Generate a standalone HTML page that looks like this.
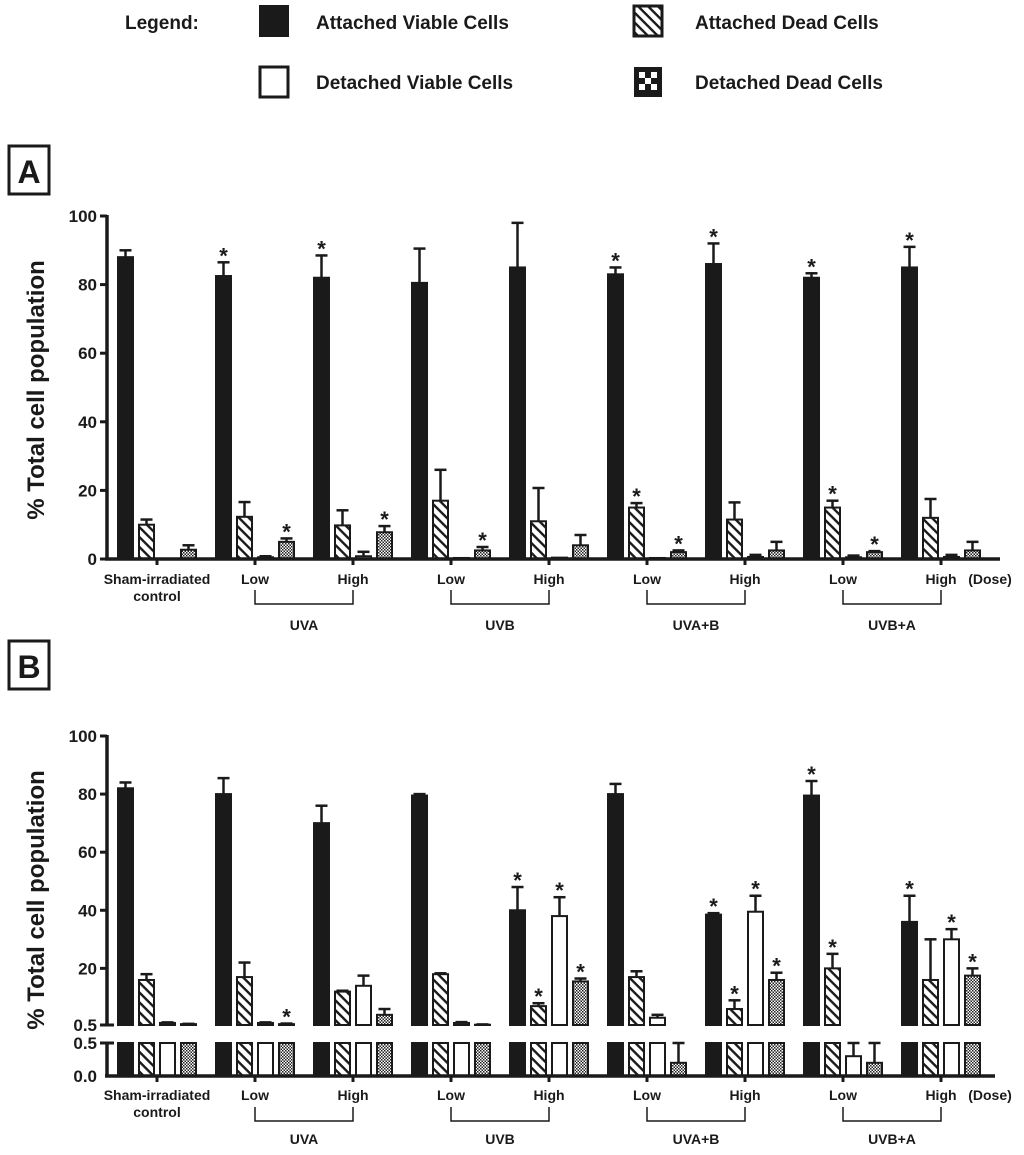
<!DOCTYPE html>
<html><head><meta charset="utf-8"><style>
body{margin:0;background:#fff;}
svg text{font-family:"Liberation Sans",sans-serif;font-weight:bold;fill:#1a1a1a;}
</style></head><body>
<svg id="fig" width="1024" height="1150" xmlns="http://www.w3.org/2000/svg">
<defs>
<pattern id="hatch" width="7" height="7" patternUnits="userSpaceOnUse" patternTransform="rotate(45)">
<rect width="7" height="7" fill="#fff"/><rect x="0" y="0" width="7" height="2.4" fill="#1a1a1a"/>
</pattern>
<pattern id="check" width="3" height="3" patternUnits="userSpaceOnUse">
<rect width="3" height="3" fill="#fff"/><rect width="1.5" height="1.5" fill="#222"/><rect x="1.5" y="1.5" width="1.5" height="1.5" fill="#222"/>
</pattern>
</defs>
<g>
<text x="125" y="29" font-size="19">Legend:</text>
<rect x="260" y="6" width="28" height="30" fill="#1a1a1a" stroke="#1a1a1a" stroke-width="2"/>
<text x="316" y="29" font-size="19">Attached Viable Cells</text>
<rect x="634" y="6" width="28" height="30" fill="url(#hatch)" stroke="#1a1a1a" stroke-width="3"/>
<text x="695" y="29" font-size="19">Attached Dead Cells</text>
<rect x="260" y="67" width="28" height="30" fill="#fff" stroke="#1a1a1a" stroke-width="3"/>
<text x="316" y="89" font-size="19">Detached Viable Cells</text>
<rect x="634" y="67" width="28" height="30" fill="#1a1a1a"/>
<g fill="#fff"><rect x="639" y="72" width="6" height="6"/><rect x="651" y="72" width="6" height="6"/><rect x="645" y="78" width="6" height="6"/><rect x="639" y="84" width="6" height="6"/><rect x="651" y="84" width="6" height="6"/></g>
<text x="695" y="89" font-size="19">Detached Dead Cells</text>
</g>
<rect x="9" y="146" width="40" height="48" fill="#fff" stroke="#1a1a1a" stroke-width="3"/>
<text x="29" y="183" font-size="32" text-anchor="middle">A</text>
<rect x="9" y="641" width="40" height="48" fill="#fff" stroke="#1a1a1a" stroke-width="3"/>
<text x="29" y="678" font-size="32" text-anchor="middle">B</text>
<text transform="translate(44,390) rotate(-90)" font-size="24" text-anchor="middle">% Total cell population</text>
<text transform="translate(44,900) rotate(-90)" font-size="24" text-anchor="middle">% Total cell population</text>
<g id="plots"></g>
</svg>
<script>
const groups = ["Sham-irradiated control","Low","High","Low","High","Low","High","Low","High"];
const treatments = ["UVA","UVB","UVA+B","UVB+A"];
const yTicksA = [0,20,40,60,80,100];
const yTicksB = [20,40,60,80,100];
// Panel A
const aAV = [88,82.5,82,80.5,85,83,86,82,85];
const aAVe = [2,4,6.5,10,13,2,6,1.3,6];
const aAD = [10,12.3,9.8,17,11,15,11.5,15,12];
const aADe = [1.5,4.3,4.4,9,9.7,1.3,5,2,5.5];
const aDV = [0,0.5,0.8,0.3,0.4,0.3,0.6,0.5,0.6];
const aDVe = [0,0.3,1.3,0,0,0,0.6,0.5,0.6];
const aDD = [2.7,5,7.8,2.5,4,2,2.5,2,2.5];
const aDDe = [1.3,1,1.8,1,3,0.5,2.5,0.3,2.5];
const aStarAV = [0,1,1,0,0,1,1,1,1];
const aStarAD = [0,0,0,0,0,1,0,1,0];
const aStarDD = [0,1,1,1,0,1,0,1,0];
// Panel B
const bAV = [82,80,70,79.5,40,80,38.5,79.5,36];
const bAVe = [2,5.5,6,0.5,8,3.5,0.5,5,9];
const bAD = [16,17,12,18,7,17,6,20,16];
const bADe = [2,5,0.3,0.3,1,2,3,5,14];
const bDV = [1.2,1.2,14,1.2,38,3,39.5,0.3,30];
const bDVe = [0.2,0.2,3.5,0.3,6.5,1,5.5,0.2,3.5];
const bDD = [0.8,0.8,4,0.6,15.5,0.2,16,0.2,17.5];
const bDDe = [0.1,0.2,2,0.1,1,0.3,2.5,0.3,2.5];
const bStarAV = [0,0,0,0,1,0,1,1,1];
const bStarAD = [0,0,0,0,1,0,1,1,0];
const bStarDV = [0,0,0,0,1,0,1,0,1];
const bStarDD = [0,1,0,0,1,0,1,0,1];

const NS="http://www.w3.org/2000/svg";
const root=document.getElementById('plots');
function mk(tag,attrs,parent){const e=document.createElementNS(NS,tag);for(const k in attrs)e.setAttribute(k,attrs[k]);(parent||root).appendChild(e);return e;}
const gx=i=>157+98*i;
const barX=(i,s)=>gx(i)-39+21*s;
const fills=["#1a1a1a","url(#hatch)","#fff","url(#check)"];
const serNames=["attached-viable","attached-dead","detached-viable","detached-dead"];
const STROKE="#1a1a1a";

function star(x,capY,nm){const t=mk('text',{x:x,y:capY+1,'font-size':22,'text-anchor':'middle'});t.textContent='*';

}
function errbar(x,y0,y1,nm){const g=mk('g',{});


mk('line',{x1:x,x2:x,y1:y0,y2:y1,stroke:STROKE,'stroke-width':2.5},g);
mk('line',{x1:x-6,x2:x+6,y1:y1,y2:y1,stroke:STROKE,'stroke-width':2.5},g);}

function xLabels(axisY,lblY,brY,trY,panel){
  groups.forEach((g,i)=>{
    if(i===0){const t=mk('text',{x:gx(0),y:lblY,'font-size':14,'text-anchor':'middle'});t.textContent='Sham-irradiated';
      
      
      const t2=mk('text',{x:gx(0),y:lblY+17,'font-size':14,'text-anchor':'middle'});t2.textContent='control';
      
      }
    else{const t=mk('text',{x:gx(i),y:lblY,'font-size':14,'text-anchor':'middle'});t.textContent=g;
      
      }
    mk('line',{x1:gx(i),x2:gx(i),y1:axisY,y2:axisY+6,stroke:STROKE,'stroke-width':3});
  });
  const d=mk('text',{x:990,y:lblY,'font-size':14,'text-anchor':'middle'});d.textContent='(Dose)';
  
  
  treatments.forEach((tr,k)=>{const a=gx(1+2*k),b=gx(2+2*k);
    const p=mk('path',{d:`M${a} ${brY-14}V${brY}H${b}V${brY-14}`,fill:'none',stroke:STROKE,'stroke-width':1.5});
    
    
    const t=mk('text',{x:(a+b)/2,y:trY,'font-size':14,'text-anchor':'middle'});t.textContent=tr;
    
    });
}

// ---------- Panel A ----------
(function(){
  const y0=559,s=3.43,ya=v=>y0-v*s;
  const vals=[aAV,aAD,aDV,aDD],errs=[aAVe,aADe,aDVe,aDDe],stars=[aStarAV,aStarAD,null,aStarDD];
  for(let si=0;si<4;si++)for(let i=0;i<9;i++){
    const v=vals[si][i];const x=barX(i,si);
    if(v>0){const r=mk('rect',{x:x,y:ya(v),width:15,height:v*s,fill:fills[si],stroke:STROKE,'stroke-width':2});
      
      }
    const e=errs[si][i];
    if(e>0)errbar(x+7.5,ya(v),ya(v+e),'a-error-'+serNames[si]+'-'+i);
    if(stars[si]&&stars[si][i])star(x+7.5,ya(v+e),'a-star-'+serNames[si]+'-'+i);
  }
  mk('line',{x1:107,x2:107,y1:ya(100)-1,y2:y0+1,stroke:STROKE,'stroke-width':3.5});
  mk('line',{x1:105,x2:1000,y1:y0,y2:y0,stroke:STROKE,'stroke-width':3.5});
  yTicksA.forEach(v=>{mk('line',{x1:100,x2:107,y1:ya(v),y2:ya(v),stroke:STROKE,'stroke-width':3});
    const t=mk('text',{x:97,y:ya(v)+6,'font-size':17,'text-anchor':'end'});t.textContent=v;
    
    });
  xLabels(y0,584,604,630,'a');
})();

// ---------- Panel B ----------
(function(){
  const up0=1025,su=(1025-736)/99.5,yu=v=>up0-(v-0.5)*su;
  const lo0=1076,sl=66,yl=v=>lo0-v*sl;
  const vals=[bAV,bAD,bDV,bDD],errs=[bAVe,bADe,bDVe,bDDe],stars=[bStarAV,bStarAD,bStarDV,bStarDD];
  for(let si=0;si<4;si++)for(let i=0;i<9;i++){
    const v=vals[si][i],e=errs[si][i];const x=barX(i,si);
    const lv=Math.min(v,0.5);
    const r=mk('rect',{x:x,y:yl(lv),width:15,height:lv*sl,fill:fills[si],stroke:STROKE,'stroke-width':2});
    
    
    if(v>0.5){
      const r2=mk('rect',{x:x,y:yu(v),width:15,height:(v-0.5)*su,fill:fills[si],stroke:STROKE,'stroke-width':2});
      
      
      errbar(x+7.5,yu(v),yu(v+e),'b-error-'+serNames[si]+'-'+i);
      if(stars[si][i])star(x+7.5,yu(v+e),'b-star-'+serNames[si]+'-'+i);
    } else {
      errbar(x+7.5,yl(v),yl(Math.min(v+e,0.5)),'b-error-'+serNames[si]+'-'+i);
    }
  }
  mk('line',{x1:107,x2:107,y1:735,y2:up0,stroke:STROKE,'stroke-width':3.5});
  mk('line',{x1:107,x2:107,y1:yl(0.5),y2:lo0,stroke:STROKE,'stroke-width':3.5});
  mk('line',{x1:105,x2:995,y1:lo0,y2:lo0,stroke:STROKE,'stroke-width':3.5});
  yTicksB.forEach(v=>{mk('line',{x1:100,x2:107,y1:yu(v),y2:yu(v),stroke:STROKE,'stroke-width':3});
    const t=mk('text',{x:97,y:yu(v)+6,'font-size':17,'text-anchor':'end'});t.textContent=v;
    
    });
  mk('line',{x1:100,x2:114,y1:up0,y2:up0,stroke:STROKE,'stroke-width':3});
  mk('line',{x1:100,x2:114,y1:yl(0.5),y2:yl(0.5),stroke:STROKE,'stroke-width':3});
  [[0.5,up0],[0.5,yl(0.5)],[0,lo0]].forEach(([v,y],k)=>{
    const t=mk('text',{x:97,y:y+6,'font-size':17,'text-anchor':'end'});t.textContent=v.toFixed(1);
    
    });
  xLabels(lo0,1100,1121,1144,'b');
})();
</script>
</body></html>
